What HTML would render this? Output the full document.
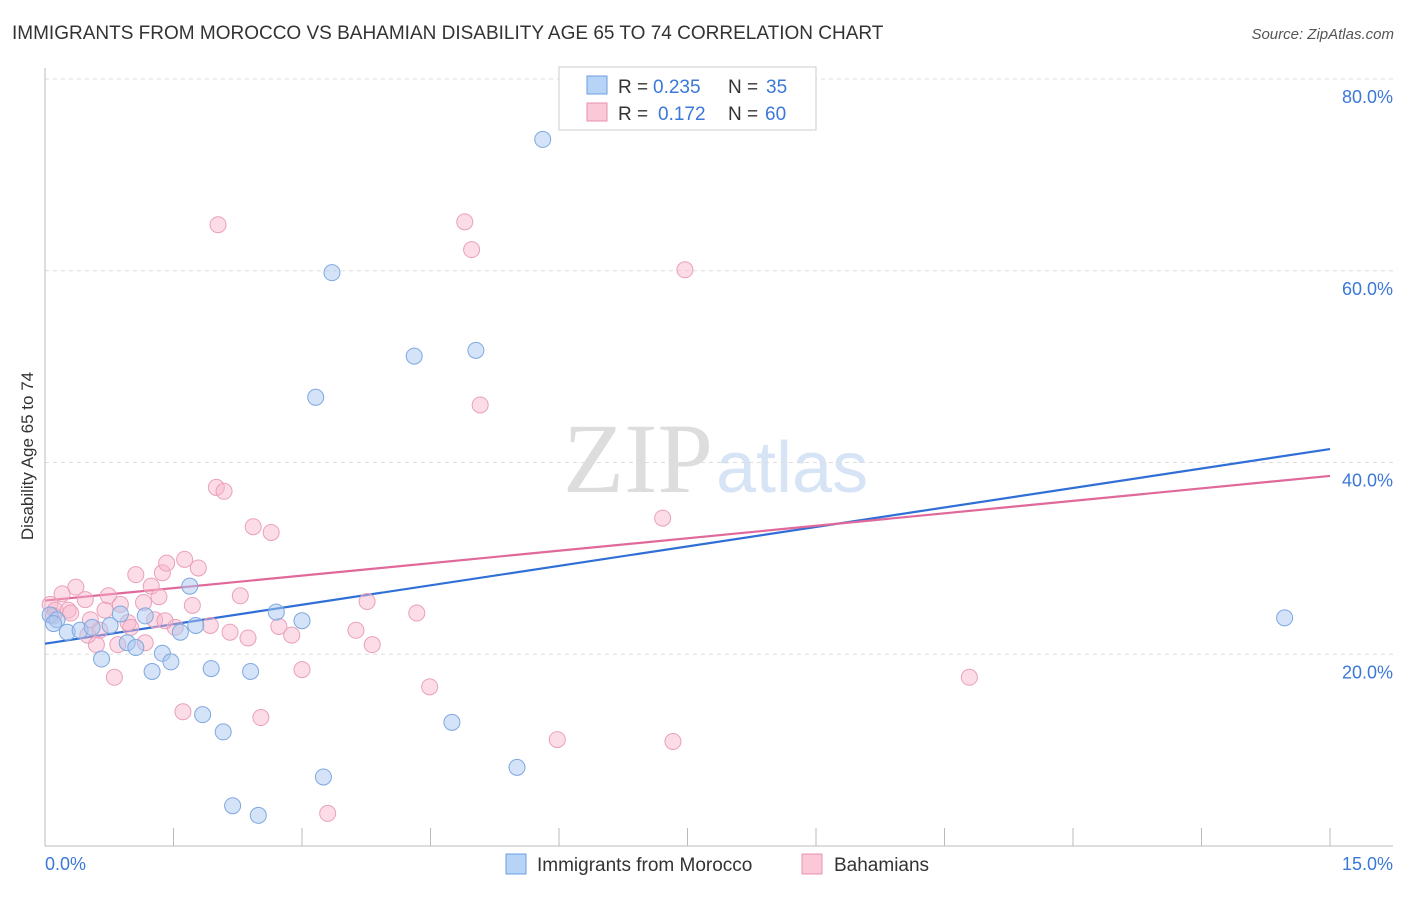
<!DOCTYPE html>
<html><head><meta charset="utf-8"><style>
body{margin:0;background:#fff;font-family:"Liberation Sans",sans-serif;}
svg text{font-family:"Liberation Sans",sans-serif;}
</style></head><body>
<svg id="c" width="1406" height="892" viewBox="0 0 1406 892" xmlns="http://www.w3.org/2000/svg">
<text x="12" y="39" font-size="19" fill="#333">IMMIGRANTS FROM MOROCCO VS BAHAMIAN DISABILITY AGE 65 TO 74 CORRELATION CHART</text>
<text x="1394" y="39" font-size="15" fill="#555" font-style="italic" text-anchor="end">Source: ZipAtlas.com</text>
<text x="713" y="492" font-size="100" fill="#ddd" text-anchor="end" style="font-family:'Liberation Serif',serif">ZIP</text>
<text x="716" y="492" font-size="72" fill="#d6e4f5">atlas</text>
<g id="grid"></g><g id="axes"></g><g id="trends"></g><g id="pts"></g>
<text transform="translate(33,456) rotate(-90)" font-size="17" fill="#333" text-anchor="middle">Disability Age 65 to 74</text>
<g>
<rect x="559" y="67" width="257" height="63" fill="#fff" stroke="#ccc"/>
<rect x="587" y="76" width="20" height="18" fill="#b7d3f5" stroke="#6a9fe0"/>
<rect x="587" y="103" width="20" height="18" fill="#fac8d7" stroke="#e890ad"/>
<text x="618" y="93" font-size="19" fill="#333">R =</text>
<text x="653" y="93" font-size="19" fill="#3b78d8">0.235</text>
<text x="728" y="93" font-size="19" fill="#333">N =</text>
<text x="766" y="93" font-size="19" fill="#3b78d8">35</text>
<text x="618" y="120" font-size="19" fill="#333">R =</text>
<text x="658" y="120" font-size="19" fill="#3b78d8">0.172</text>
<text x="728" y="120" font-size="19" fill="#333">N =</text>
<text x="765" y="120" font-size="19" fill="#3b78d8">60</text>
</g>
<g>
<rect x="506" y="854" width="20" height="20" fill="#b7d3f5" stroke="#6a9fe0"/>
<text x="537" y="871" font-size="19" fill="#333">Immigrants from Morocco</text>
<rect x="802" y="854" width="20" height="20" fill="#fac8d7" stroke="#e890ad"/>
<text x="834" y="871" font-size="19" fill="#333">Bahamians</text>
</g>
</svg>
<script>
const xTicks=[0,1.5,3,4.5,6,7.5,9,10.5,12,13.5,15];
const yTicks=[20,40,60,80];
const yTickLabels=["20.0%","40.0%","60.0%","80.0%"];
const xEndLabels=["0.0%","15.0%"];
const blueX=[0.06,0.14,0.26,0.41,0.55,0.66,0.76,0.88,0.96,1.06,1.17,1.25,1.37,1.47,1.58,1.69,1.76,1.84,1.94,2.08,2.19,2.40,2.49,2.70,3.00,3.16,3.25,3.35,4.31,4.75,5.03,5.51,5.81,14.47,0.1];
const blueY=[24.1,23.6,22.3,22.5,22.8,19.5,23.0,24.2,21.2,20.7,24.0,18.2,20.1,19.2,22.3,27.1,23.0,13.7,18.5,11.9,4.2,18.2,3.2,24.4,23.5,46.8,7.2,59.8,51.1,12.9,51.7,8.2,73.7,23.8,23.2];
const pinkX=[0.06,0.12,0.2,0.27,0.36,0.47,0.53,0.6,0.64,0.7,0.74,0.81,0.85,0.88,0.97,1.06,1.15,1.17,1.24,1.28,1.33,1.37,1.42,1.52,1.61,1.63,1.72,1.79,1.93,2.0,2.02,2.09,2.16,2.28,2.37,2.43,2.52,2.64,2.73,2.88,3.0,3.3,3.63,3.76,3.82,4.34,4.49,4.9,4.98,5.08,5.98,7.21,7.33,7.47,10.79,0.1,0.3,0.5,1.0,1.4];
const pinkY=[25.2,24.6,26.3,24.6,27.0,25.7,23.6,21.0,22.5,24.6,26.1,17.6,21.0,25.2,23.3,28.3,25.4,21.2,27.1,23.6,26.0,28.5,29.5,22.8,14.0,29.9,25.1,29.0,23.0,37.4,64.8,37.0,22.3,26.1,21.7,33.3,13.4,32.7,22.9,22.0,18.4,3.4,22.5,25.5,21.0,24.3,16.6,65.1,62.2,46.0,11.1,34.2,10.9,60.1,17.6,24.0,24.3,22.0,22.8,23.5];
const blueTrend=[21.1,41.4];
const pinkTrend=[25.6,38.6];
const X0=45,X1=1330,YB=846,YT=79;
const sx=v=>X0+(v-0)/(15-0)*(X1-X0);
const sy=v=>YB-(v-0)/(80-0)*(YB-YT);
const NS="http://www.w3.org/2000/svg";
function mk(p,t,a){const e=document.createElementNS(NS,t);for(const k in a)e.setAttribute(k,a[k]);document.getElementById(p).appendChild(e);return e;}
yTicks.forEach((t,i)=>{
 const g=mk('grid','line',{x1:X0,x2:1393,y1:sy(t),y2:sy(t),stroke:'#ddd','stroke-dasharray':'4,4'});
 
 
 const l=mk('grid','text',{x:1393,y:sy(t)+24,'font-size':18,fill:'#3b78d8','text-anchor':'end'});
 l.textContent=yTickLabels[i];
 
 
});
const ax=mk('axes','line',{x1:X0,x2:X0,y1:68,y2:YB,stroke:'#bbb'});


const bx=mk('axes','line',{x1:X0,x2:1393,y1:YB,y2:YB,stroke:'#bbb'});


xTicks.forEach(t=>{
 const k=mk('axes','line',{x1:sx(t),x2:sx(t),y1:828,y2:YB,stroke:'#bbb'});
 
 
});
[[0,'start',45],[1,'end',1393]].forEach(([i,a,x])=>{
 const l=mk('axes','text',{x:x,y:870,'font-size':18,fill:'#3b78d8','text-anchor':a});
 l.textContent=xEndLabels[i];
 
 
});
const bt=mk('trends','line',{x1:sx(0),y1:sy(blueTrend[0]),x2:sx(15),y2:sy(blueTrend[1]),stroke:'#2f6fd6','stroke-width':2.2});


const pt=mk('trends','line',{x1:sx(0),y1:sy(pinkTrend[0]),x2:sx(15),y2:sy(pinkTrend[1]),stroke:'#e0689a','stroke-width':2.2});


pinkX.forEach((v,i)=>{
 const c=mk('pts','circle',{cx:sx(v),cy:sy(pinkY[i]),r:8,fill:'rgba(248,180,202,0.45)',stroke:'#eaa0ba','stroke-width':1});
 
 
});
blueX.forEach((v,i)=>{
 const c=mk('pts','circle',{cx:sx(v),cy:sy(blueY[i]),r:8,fill:'rgba(170,200,240,0.5)',stroke:'#7fa8e0','stroke-width':1});
 
 
});
</script>
</body></html>
